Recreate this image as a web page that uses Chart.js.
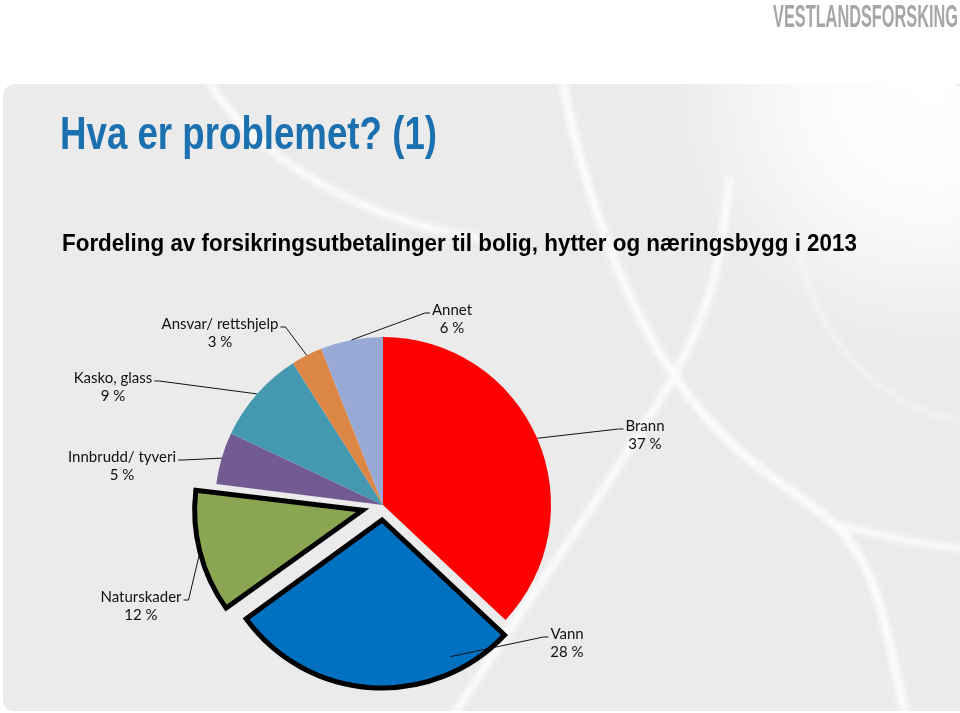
<!DOCTYPE html>
<html>
<head>
<meta charset="utf-8">
<script src="https://cdn.jsdelivr.net/npm/chart.js@4.4.0/dist/chart.umd.min.js"></script>
<style>
  body { margin: 0; width: 960px; height: 713px; overflow: hidden; background: #fff; position: relative; }
  #bg { position: absolute; left: 3px; top: 84px; width: 960px; height: 627px; background: #ebebeb; border-top-left-radius: 12px; border-bottom-left-radius: 10px; }
  #tex { position: absolute; left: 0; top: 0; }
  .fit { position: absolute; white-space: nowrap; line-height: 1; transform-origin: 0 0; font-family: "Liberation Sans", Arial, sans-serif; font-weight: bold; }
  #logo { left: 773px; top: 0px; font-size: 32px; color: #a6a6a6; }
  #title { left: 60px; top: 110px; font-size: 46px; color: #1b70b0; }
  #sub { left: 62px; top: 232px; font-size: 23px; color: #000; }
  #pieChart { position: absolute; left: 0; top: 0; }
</style>
</head>
<body>
<div id="bg"></div>
<svg id="tex" width="960" height="713">
  <defs>
    <filter id="blur"><feGaussianBlur stdDeviation="2.5"/></filter>
    <radialGradient id="glow" cx="930" cy="90" r="260" gradientUnits="userSpaceOnUse">
      <stop offset="0" stop-color="#fff" stop-opacity="1"/>
      <stop offset="0.45" stop-color="#fff" stop-opacity="0.8"/>
      <stop offset="1" stop-color="#fff" stop-opacity="0"/>
    </radialGradient>
    <clipPath id="clip"><rect x="3" y="84" width="960" height="627" rx="10"/></clipPath>
  </defs>
  <g clip-path="url(#clip)">
    <rect x="600" y="84" width="360" height="300" fill="url(#glow)"/>
    <g fill="none" stroke="#fff" stroke-linecap="round" filter="url(#blur)" opacity="0.8">
      <path d="M210 84 C 260 160, 360 220, 480 238" stroke-width="8"/>
      <path d="M455 713 C 520 610, 600 500, 660 400 S 720 250, 730 180" stroke-width="8"/>
      <path d="M563 84 C 590 220, 640 340, 700 410 S 800 490, 840 530 S 890 650, 905 713" stroke-width="9"/>
      <path d="M840 525 C 880 535, 920 545, 960 548" stroke-width="7"/>
      <path d="M960 420 C 880 410, 810 330, 800 250" stroke-width="4" opacity="0.6"/>
    </g>
  </g>
</svg>
<div id="logo" class="fit" data-w="185">VESTLANDSFORSKING</div>
<div id="title" class="fit" data-w="377">Hva er problemet? (1)</div>
<div id="sub" class="fit" data-w="795">Fordeling av forsikringsutbetalinger til bolig, hytter og næringsbygg i 2013</div>
<canvas id="pieChart" width="960" height="713"></canvas>
<script>
// fordeling 2013, prosent
const categories = ['Brann', 'Vann', 'Naturskader', 'Innbrudd/ tyveri', 'Kasko, glass', 'Ansvar/ rettshjelp', 'Annet'];
const shares = [37, 28, 12, 5, 9, 3, 6];

const colors = ['#ff0000', '#0070c0', '#8ba652', '#725a93', '#4499b0', '#dc8745', '#97a9d4'];
const offsets = [0, 60, 84, 0, 0, 0, 0];        // chart.js moves slice by offset/4
const borders = [0, 5, 5, 0, 0, 0, 0];

// label boxes: center x, first line y, which side the leader hits, anchor on slice
const labelPos = [
  {x: 645, y: 426, side: 'left',  t: 0.5, rf: 1},
  {x: 567, y: 634, side: 'left',  t: 0.2, rf: 0.91},
  {x: 141, y: 597, side: 'right', t: 0.5, rf: 1},
  {x: 122, y: 457, side: 'right', t: 0.5, rf: 1},
  {x: 113, y: 378, side: 'right', t: 0.5, rf: 1},
  {x: 220, y: 324, side: 'right', t: 0.5, rf: 1},
  {x: 452, y: 310, side: 'left',  t: 0.5, rf: 1}
];

document.querySelectorAll('.fit').forEach(function (el) {
  let w = el.getBoundingClientRect().width;
  el.style.transform = 'scaleX(' + (el.dataset.w / w) + ')';
});

// chart.js grows an offset slice a bit, undo that so exploded slices keep the same radius
const keepRadius = {
  id: 'keepRadius',
  beforeDatasetsDraw(chart) {
    let meta = chart.getDatasetMeta(0);
    meta.data.forEach(function (arc, i) {
      let circ = arc.endAngle - arc.startAngle;
      let fix = 1 - Math.sin(Math.min(Math.PI, circ));
      arc.outerRadius = meta.controller.outerRadius - (offsets[i] / 4) * fix;
    });
  }
};

const leaderLabels = {
  id: 'leaderLabels',
  afterDatasetsDraw(chart) {
    let ctx = chart.ctx;
    let meta = chart.getDatasetMeta(0);
    let r = meta.controller.outerRadius;
    ctx.save();
    ctx.font = '15px Lato, "Open Sans", sans-serif';
    ctx.textAlign = 'center';
    ctx.textBaseline = 'middle';
    ctx.strokeStyle = '#111';
    ctx.lineWidth = 1;
    for (let i = 0; i < meta.data.length; i++) {
      let arc = meta.data[i];
      let mid = (arc.startAngle + arc.endAngle) / 2;
      let shift = offsets[i] / 4;
      let cx = arc.x + Math.cos(mid) * shift;
      let cy = arc.y + Math.sin(mid) * shift;
      let lp = labelPos[i];
      let a = arc.startAngle + (arc.endAngle - arc.startAngle) * lp.t;
      let ax = cx + Math.cos(a) * r * lp.rf;
      let ay = cy + Math.sin(a) * r * lp.rf;
      let w = ctx.measureText(categories[i]).width;
      let ex, elx;
      if (lp.side === 'left') {
        ex = lp.x - w / 2 - 2;
        elx = ex - 5;
      } else {
        ex = lp.x + w / 2 + 2;
        elx = ex + 5;
      }
      let ey = lp.y + 3;
      ctx.beginPath();
      ctx.moveTo(ax, ay);
      ctx.lineTo(elx, ey);
      ctx.lineTo(ex, ey);
      ctx.stroke();
      ctx.fillStyle = '#111';
      ctx.fillText(categories[i], lp.x, lp.y);
      ctx.fillText(shares[i] + ' %', lp.x, lp.y + 18);
    }
    ctx.restore();
  }
};

let ctx = document.getElementById('pieChart').getContext('2d');
let myChart = new Chart(ctx, {
  type: 'pie',
  data: {
    labels: categories,
    datasets: [{
      data: shares,
      backgroundColor: colors,
      borderColor: '#000',
      borderWidth: borders,
      borderJoinStyle: 'miter',
      offset: offsets,
      radius: 168
    }]
  },
  options: {
    responsive: false,
    animation: false,
    layout: { padding: { left: 0, right: 194, top: 297, bottom: 0 } },
    plugins: {
      legend: { display: false },
      tooltip: { enabled: false }
    }
  },
  plugins: [keepRadius, leaderLabels]
});
</script>
</body>
</html>
